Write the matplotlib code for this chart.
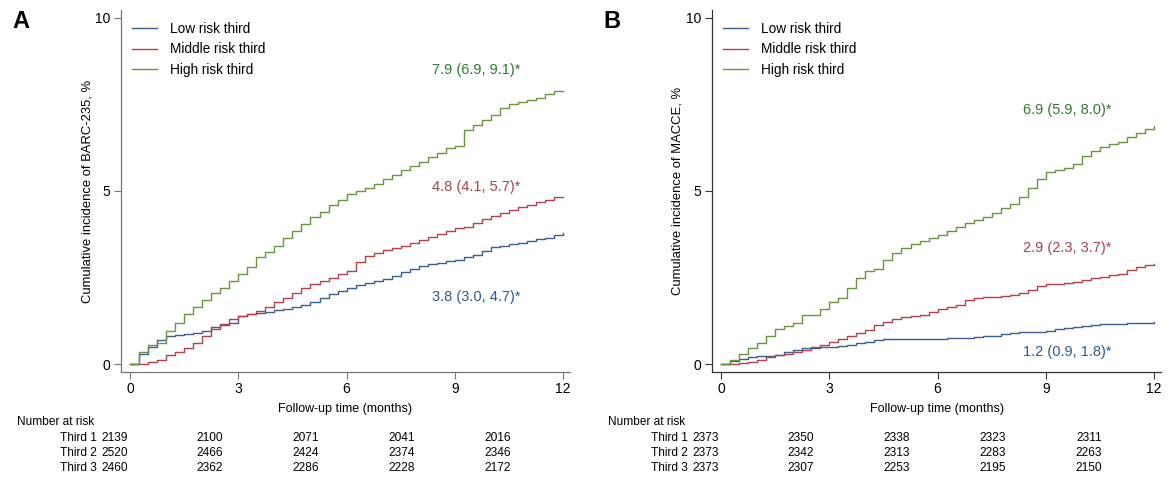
import numpy as np
import matplotlib
matplotlib.use('Agg')
import matplotlib.pyplot as plt

plt.rcParams['font.family'] = ['Liberation Sans', 'DejaVu Sans']

# every 0.25 month
months = np.linspace(0, 12, 49)

a_low = [0, 0.3, 0.5, 0.7, 0.82, 0.85, 0.88, 0.9, 0.95, 1.08, 1.12, 1.2,
         1.4, 1.45, 1.48, 1.5, 1.55, 1.6, 1.65, 1.72, 1.78, 1.9, 2.02, 2.12,
         2.2, 2.28, 2.35, 2.4, 2.47, 2.55, 2.65, 2.75, 2.82, 2.88, 2.93, 2.97,
         3.02, 3.08, 3.15, 3.28, 3.37, 3.42, 3.46, 3.5, 3.56, 3.6, 3.64, 3.72, 3.78]
a_mid = [0, 0, 0.05, 0.12, 0.25, 0.35, 0.45, 0.6, 0.8, 1.0, 1.15, 1.3,
         1.38, 1.45, 1.52, 1.65, 1.78, 1.9, 2.05, 2.2, 2.3, 2.4, 2.48, 2.6,
         2.68, 2.95, 3.12, 3.22, 3.3, 3.36, 3.42, 3.5, 3.58, 3.66, 3.75, 3.85,
         3.92, 3.95, 4.08, 4.2, 4.27, 4.35, 4.45, 4.53, 4.6, 4.67, 4.73, 4.82, 4.82]
a_high = [0, 0.35, 0.55, 0.6, 0.95, 1.2, 1.45, 1.65, 1.85, 2.05, 2.2, 2.4,
          2.6, 2.8, 3.1, 3.25, 3.4, 3.65, 3.85, 4.05, 4.25, 4.4, 4.6, 4.75,
          4.9, 5.0, 5.08, 5.2, 5.35, 5.45, 5.6, 5.72, 5.85, 5.97, 6.1, 6.23,
          6.3, 6.75, 6.9, 7.05, 7.2, 7.4, 7.5, 7.56, 7.62, 7.7, 7.8, 7.88, 7.9]

b_low = [0, 0.08, 0.15, 0.2, 0.22, 0.24, 0.27, 0.35, 0.4, 0.46, 0.47, 0.48,
         0.5, 0.53, 0.56, 0.6, 0.65, 0.7, 0.72, 0.72, 0.72, 0.72, 0.72, 0.73,
         0.73, 0.74, 0.75, 0.76, 0.78, 0.8, 0.8, 0.87, 0.91, 0.92, 0.93, 0.93,
         0.95, 1.0, 1.04, 1.07, 1.1, 1.12, 1.15, 1.17, 1.17, 1.18, 1.19, 1.2, 1.21]
b_mid = [0, 0, 0.02, 0.06, 0.12, 0.2, 0.27, 0.3, 0.36, 0.42, 0.48, 0.56,
         0.65, 0.73, 0.82, 0.9, 0.98, 1.12, 1.22, 1.3, 1.35, 1.38, 1.42, 1.5,
         1.58, 1.65, 1.72, 1.85, 1.92, 1.93, 1.95, 1.97, 2.0, 2.05, 2.15, 2.26,
         2.3, 2.31, 2.33, 2.38, 2.43, 2.48, 2.52, 2.56, 2.6, 2.72, 2.8, 2.86, 2.89]
b_high = [0, 0.12, 0.28, 0.45, 0.62, 0.8, 1.0, 1.1, 1.2, 1.41, 1.41, 1.6,
          1.78, 1.92, 2.2, 2.48, 2.68, 2.75, 3.0, 3.2, 3.35, 3.48, 3.56, 3.63,
          3.72, 3.85, 3.97, 4.07, 4.15, 4.25, 4.36, 4.5, 4.62, 4.82, 5.1, 5.35,
          5.54, 5.6, 5.66, 5.78, 6.0, 6.15, 6.28, 6.36, 6.42, 6.55, 6.68, 6.78, 6.88]

series_names = ['Low risk third', 'Middle risk third', 'High risk third']
a_labels = ['3.8 (3.0, 4.7)*', '4.8 (4.1, 5.7)*', '7.9 (6.9, 9.1)*']
b_labels = ['1.2 (0.9, 1.8)*', '2.9 (2.3, 3.7)*', '6.9 (5.9, 8.0)*']
a_label_y = [1.94, 5.12, 8.5]
b_label_y = [0.35, 3.35, 7.34]

risk_rows = ['Third 1', 'Third 2', 'Third 3']
a_risk = [[2139, 2100, 2071, 2041, 2016],
          [2520, 2466, 2424, 2374, 2346],
          [2460, 2362, 2286, 2228, 2172]]
b_risk = [[2373, 2350, 2338, 2323, 2311],
          [2373, 2342, 2313, 2283, 2263],
          [2373, 2307, 2253, 2195, 2150]]

line_cols = ['#3b5f8e', '#b0424c', '#6a9440']
text_cols = ['#2d5b8c', '#a8434b', '#2e7b2e']

W, H = 1175, 480
fig = plt.figure(figsize=(W / 100, H / 100), dpi=100)


def panel(left_px, curves, labels, label_y, ylabel, letter, risk, spine_col):
    ax = fig.add_axes([left_px / W, 1 - 372 / H, 449 / W, 362 / H])
    for c, v, name in zip(line_cols, curves, series_names):
        ax.step(months, v, where='post', color=c, lw=1.0, label=name)
    for t, y, c in zip(labels, label_y, text_cols):
        ax.text(9.58, y, t, color=c, fontsize=10.5, ha='center', va='center')
    ax.set_xlim(-0.25, 12.19)
    ax.set_ylim(-0.23, 10.23)
    ax.set_xticks([0, 3, 6, 9, 12])
    ax.set_yticks([0, 5, 10])
    ax.spines['top'].set_visible(False)
    ax.spines['right'].set_visible(False)
    for s in ['left', 'bottom']:
        ax.spines[s].set_color(spine_col)
        ax.spines[s].set_linewidth(0.9)
    ax.tick_params(length=5, width=0.8, color=spine_col, labelsize=10, pad=2.5)
    ax.set_xlabel('Follow-up time (months)', fontsize=9, labelpad=5)
    ax.set_ylabel(ylabel, fontsize=9.4)
    ax.yaxis.set_label_coords(-28 / 449, 0.5)
    ax.legend(loc='upper left', bbox_to_anchor=(11 / 449, 1 - 12 / 362), frameon=False,
              fontsize=9.8, handlelength=1.8, handletextpad=1.0, labelspacing=0.47,
              borderpad=0, borderaxespad=0)
    fig.text((left_px - 109) / W, 1 - 21 / H, letter, fontsize=17, fontweight='bold',
             ha='left', va='center')
    # number at risk table
    x0 = left_px - 104
    fig.text(x0 / W, 1 - 422 / H, 'Number at risk', fontsize=8.6, ha='left', va='center')
    cols = [115, 210, 306, 402, 498]
    for r, (name, vals) in enumerate(zip(risk_rows, risk)):
        y = 1 - (438 + 14.8 * r) / H
        fig.text((left_px - 24) / W, y, name, fontsize=8.6, ha='right', va='center')
        for cx, n in zip(cols, vals):
            fig.text((cx + left_px - 121) / W, y, str(n), fontsize=8.6, ha='center', va='center')
    return ax


panel(121, [a_low, a_mid, a_high], a_labels, a_label_y,
      'Cumulative incidence of BARC-235, %', 'A', a_risk, '#777777')
panel(712, [b_low, b_mid, b_high], b_labels, b_label_y,
      'Cumulative incidence of MACCE, %', 'B', b_risk, '#333333')

fig.savefig('out.png', dpi=100)
